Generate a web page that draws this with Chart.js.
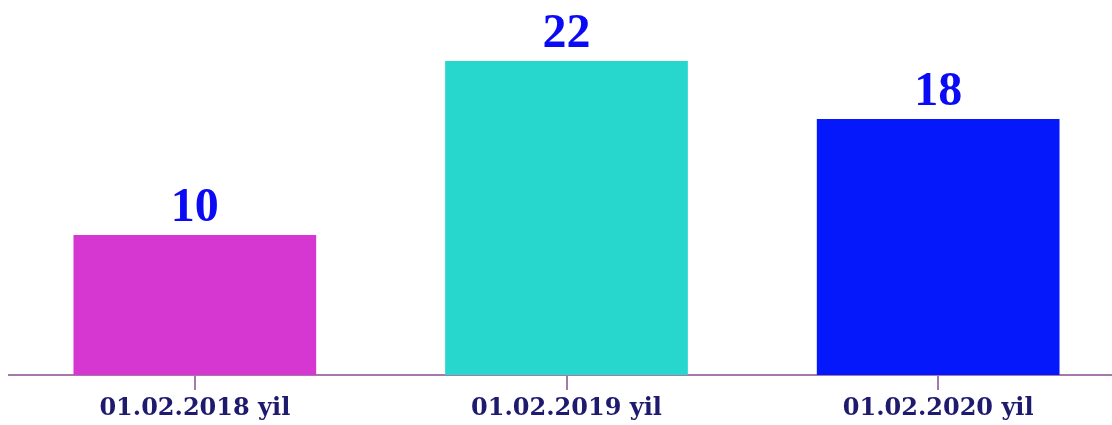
<!DOCTYPE html>
<html>
<head>
<meta charset="utf-8">
<script src="https://cdn.jsdelivr.net/npm/chart.js@4/dist/chart.umd.min.js"></script>
<style>
  html, body { margin: 0; padding: 0; background: #fff; overflow: hidden; }
  #wrap { width: 1112px; height: 425px; overflow: hidden; }
</style>
</head>
<body>
<div id="wrap"><canvas id="barChart" width="1125" height="425" style="width:1125px;height:425px"></canvas></div>
<script>
// chart data
const categories = ['01.02.2018 yil', '01.02.2019 yil', '01.02.2020 yil'];
const values = [10, 22, 18];
const barColors = ['#d637d1', '#27d6cc', '#0418fb'];

const axisColor = '#a67aa8';
const valueFont = 'bold 48px "Liberation Serif"';

// draws the number above each bar
const valueLabels = {
    id: 'valueLabels',
    afterDatasetsDraw(chart) {
        const ctx = chart.ctx;
        const meta = chart.getDatasetMeta(0);
        ctx.save();
        ctx.font = valueFont;
        ctx.fillStyle = '#0a0af5';
        ctx.textAlign = 'center';
        ctx.textBaseline = 'alphabetic';
        meta.data.forEach((bar, i) => {
            ctx.fillText(values[i], bar.x, bar.y - 14);
        });
        ctx.restore();
    }
};

function drawChart() {
    const ctx = document.getElementById('barChart').getContext('2d');
    new Chart(ctx, {
        type: 'bar',
        data: {
            labels: categories,
            datasets: [{
                data: values,
                backgroundColor: barColors,
                borderWidth: 0,
                barPercentage: 0.653,
                categoryPercentage: 1
            }]
        },
        options: {
            responsive: false,
            animation: false,
            layout: { padding: { left: 9, right: 1, top: 0, bottom: 0 } },
            plugins: {
                legend: { display: false },
                tooltip: { enabled: false }
            },
            scales: {
                x: {
                    afterFit(scale) { scale.height = 50; },
                    grid: {
                        offset: false,
                        drawOnChartArea: false,
                        drawTicks: true,
                        tickLength: 15,
                        lineWidth: 2,
                        color: axisColor
                    },
                    border: { display: true, color: axisColor, width: 2 },
                    ticks: {
                        padding: 4,
                        color: '#1e1a6e',
                        font: { family: '"DejaVu Serif", serif', weight: 'bold', size: 24 }
                    }
                },
                y: {
                    display: false,
                    min: 0.35,
                    max: 26.2
                }
            }
        },
        plugins: [valueLabels]
    });
}

Promise.all([
    document.fonts.load(valueFont),
    document.fonts.load('bold 24px "DejaVu Serif"')
]).then(drawChart, drawChart);
</script>
</body>
</html>
